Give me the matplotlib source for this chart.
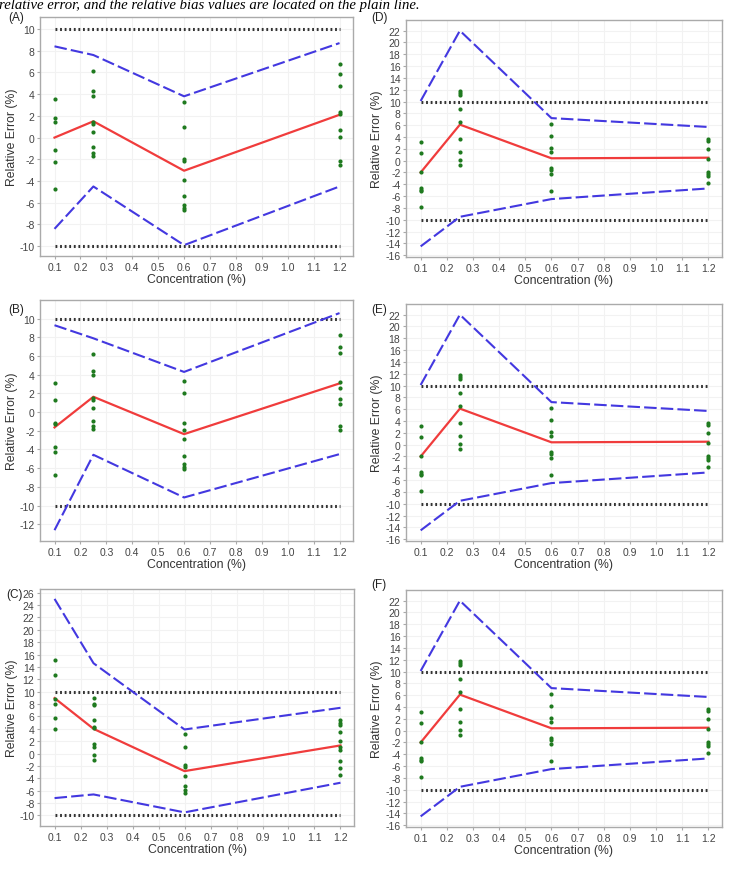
import numpy as np
import matplotlib
matplotlib.use("Agg")
import matplotlib.pyplot as plt

plt.rcParams['font.family'] = ['Liberation Sans', 'DejaVu Sans']
plt.rcParams['axes.unicode_minus'] = False

conc = [0.1, 0.25, 0.6, 1.2]
xticks = [0.1, 0.2, 0.3, 0.4, 0.5, 0.6, 0.7, 0.8, 0.9, 1.0, 1.1, 1.2]
limits = [-10, 10]

# panel A
a_upper = [8.4, 7.6, 3.8, 8.7]
a_bias = [0.0, 1.5, -3.05, 2.1]
a_lower = [-8.4, -4.5, -9.9, -4.5]
a_pts = [[3.56, 1.77, 1.40, -1.12, -2.27, -4.76],
         [6.12, 4.33, 3.87, 1.40, 1.25, 0.48, -0.91, -1.43, -1.74],
         [3.25, 0.94, -1.93, -2.14, -3.90, -5.38, -6.21, -6.46, -6.67],
         [6.80, 5.84, 4.79, 2.33, 2.17, 0.69, 0.02, -2.14, -2.51]]

# panel B
b_upper = [9.3, 7.9, 4.3, 10.6]
b_bias = [-1.64, 1.64, -2.36, 3.07]
b_lower = [-12.64, -4.57, -9.14, -4.5]
b_pts = [[3.07, 1.29, -1.14, -1.29, -3.79, -4.29, -6.71],
         [6.21, 4.43, 3.96, 1.46, 1.29, 0.43, -0.93, -1.46, -1.82],
         [3.36, 2.0, -1.18, -1.93, -2.89, -4.68, -5.57, -5.86, -6.1],
         [8.29, 7.0, 6.29, 3.25, 2.54, 1.39, 0.86, -1.46, -1.93]]

# panel C
c_upper = [25.0, 14.6, 3.9, 7.4]
c_bias = [8.97, 4.0, -2.83, 1.32]
c_lower = [-7.19, -6.6, -9.5, -4.71]
c_pts = [[15.12, 12.64, 8.87, 8.06, 5.74, 4.0],
         [8.97, 8.06, 7.79, 5.36, 4.29, 4.13, 1.59, 1.05, -0.29, -1.1],
         [3.21, 1.05, -1.8, -2.18, -3.69, -5.25, -5.95, -6.33],
         [5.36, 4.99, 4.66, 3.48, 2.02, 1.05, 0.51, -1.26, -2.34, -3.42]]

# panel D (E and F show the same values)
d_upper = [10.1, 22.0, 7.2, 5.7]
d_bias = [-2.0, 6.1, 0.4, 0.5]
d_lower = [-14.5, -9.5, -6.5, -4.7]
d_pts = [[3.09, 1.35, -1.9, -4.65, -4.94, -5.1, -7.8],
         [11.73, 11.45, 11.17, 8.7, 6.57, 3.65, 1.52, 0.11, -0.73],
         [6.12, 4.15, 2.08, 1.52, -1.18, -1.57, -2.3, -5.2],
         [3.65, 3.37, 1.91, 0.23, -1.85, -2.24, -2.52, -3.81]]

W, H = 741, 870
fig = plt.figure(figsize=(W / 100, H / 100), dpi=100)


def px_axes(x0, y0, x1, y1):
    return fig.add_axes([x0 / W, 1 - y1 / H, (x1 - x0) / W, (y1 - y0) / H])


def draw(ax, upper, bias, lower, pts, yticks, ylim, ylab_x):
    ax.grid(True, color='#f2f2f2', lw=0.8)
    ax.set_axisbelow(True)
    for lim in limits:
        ax.plot([conc[0], conc[-1]], [lim, lim], color='#333333', lw=2.2,
                ls=(0, (0.6, 0.9)), zorder=2)
    ax.plot(conc, upper, color='#4338e0', lw=1.5, ls=(0, (6, 2)), zorder=3)
    ax.plot(conc, lower, color='#4338e0', lw=1.5, ls=(0, (6, 2)), zorder=3)
    ax.plot(conc, bias, color='#f03c3c', lw=1.6, zorder=3)
    for c, col in zip(conc, pts):
        ax.plot([c] * len(col), col, 'o', color='#1f7a1f', ms=3, mew=0,
                zorder=4)
    ax.set_xlim(0.044, 1.252)
    ax.set_ylim(*ylim)
    ax.set_xticks(xticks)
    ax.set_xticklabels(['%.1f' % t for t in xticks])
    ax.set_yticks(yticks)
    ax.tick_params(labelsize=7.5, colors='#444444', length=2, width=0.8,
                   pad=2, color='#aaaaaa')
    for s in ax.spines.values():
        s.set_color('#aaaaaa')
        s.set_linewidth(1.0)
    ax.set_xlabel('Concentration (%)', fontsize=8.8, color='#333333',
                  va='center')
    ax.set_ylabel('Relative Error (%)', fontsize=8.8, color='#333333',
                  va='center')
    h = ax.get_position().height * H
    w = ax.get_position().width * W
    ax.xaxis.set_label_coords(0.5, -23 / h)
    ax.yaxis.set_label_coords(-ylab_x / w, 0.5)


axA = px_axes(40, 18, 353, 257)
draw(axA, a_upper, a_bias, a_lower, a_pts, range(-10, 11, 2), (-10.9, 11.1), 28)
axB = px_axes(40, 301, 353, 542)
draw(axB, b_upper, b_bias, b_lower, b_pts, range(-12, 11, 2), (-13.8, 12.0), 28)
axC = px_axes(40, 590, 354, 827)
draw(axC, c_upper, c_bias, c_lower, c_pts, range(-10, 27, 2), (-11.7, 26.6), 28)
axD = px_axes(406, 21, 722, 258)
draw(axD, d_upper, d_bias, d_lower, d_pts, range(-16, 23, 2), (-16.3, 23.8), 29)
axE = px_axes(406, 305, 722, 542)
draw(axE, d_upper, d_bias, d_lower, d_pts, range(-16, 23, 2), (-16.3, 23.8), 29)
axF = px_axes(406, 591, 722, 828)
draw(axF, d_upper, d_bias, d_lower, d_pts, range(-16, 23, 2), (-16.3, 23.8), 29)

for lab, x, y in [('(A)', 8, 18), ('(B)', 8, 310), ('(C)', 6, 595),
                  ('(D)', 371, 18), ('(E)', 371, 310), ('(F)', 371, 585)]:
    fig.text(x / W, 1 - y / H, lab, fontsize=8.5, color='#222222',
             va='center', ha='left')

fig.text(-1 / W, 1 - 9 / H,
         'relative error, and the relative bias values are located on the plain line.',
         fontsize=10.6, family='Liberation Serif', style='italic',
         va='baseline', ha='left')

fig.savefig('out.png', dpi=100)
